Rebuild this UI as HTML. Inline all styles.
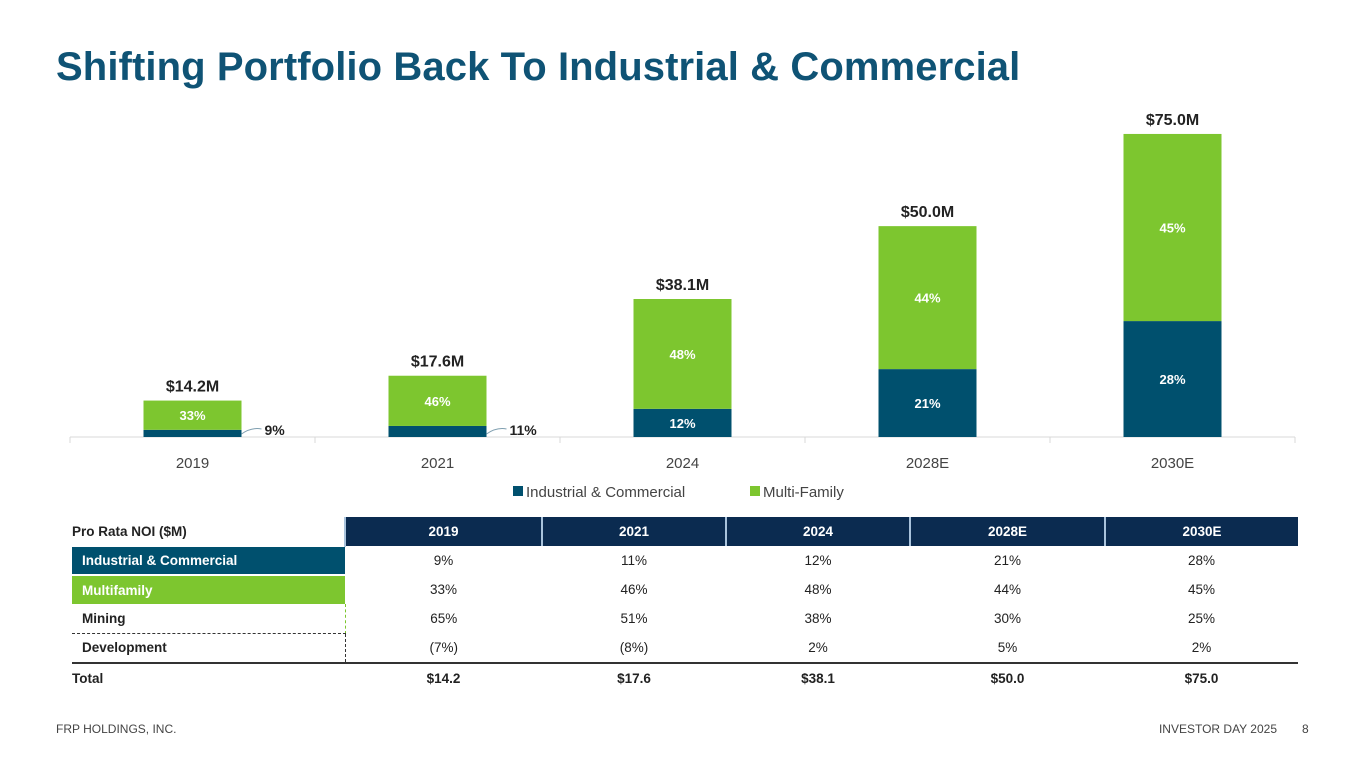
<!DOCTYPE html>
<html><head><meta charset="utf-8">
<style>
body{margin:0;width:1365px;height:768px;background:#fff;font-family:"Liberation Sans",sans-serif;position:relative;overflow:hidden}
.title{position:absolute;left:56px;top:45px;font-size:40px;font-weight:bold;color:#0f5375;letter-spacing:0.1px}
table{position:absolute;left:72px;top:517px;border-collapse:collapse;font-size:13.5px}
td{height:29px;padding:0;text-align:center;color:#222}
.lab{width:273px;text-align:left;padding-left:10px;font-weight:bold;box-sizing:border-box}
.hd td.y{background:#0b2b50;color:#fff;font-weight:bold;border-left:2px solid #a9c3dc}
.foot{position:absolute;top:722px;font-size:12px;color:#444}
</style></head><body>
<div class="title">Shifting Portfolio Back To Industrial &amp; Commercial</div>
<svg id="chart" width="1365" height="510" style="position:absolute;left:0;top:0"></svg>
<table>
<tr class="hd"><td class="lab" style="padding-left:0">Pro Rata NOI ($M)</td><td class="y" style="width:195px">2019</td><td class="y" style="width:182px">2021</td><td class="y" style="width:182px">2024</td><td class="y" style="width:193px">2028E</td><td class="y" style="width:192px">2030E</td></tr>
<tr><td class="lab" style="background:#00506e;color:#fff;border-top:2px solid #fff">Industrial &amp; Commercial</td><td>9%</td><td>11%</td><td>12%</td><td>21%</td><td>28%</td></tr>
<tr><td class="lab" style="background:#7dc62f;color:#fff;border-top:2px solid #fff">Multifamily</td><td>33%</td><td>46%</td><td>48%</td><td>44%</td><td>45%</td></tr>
<tr><td class="lab" style="border-right:1px dashed #7dc62f;border-bottom:1px dashed #333">Mining</td><td>65%</td><td>51%</td><td>38%</td><td>30%</td><td>25%</td></tr>
<tr style="border-bottom:2px solid #333"><td class="lab" style="border-right:1px dashed #333">Development</td><td>(7%)</td><td>(8%)</td><td>2%</td><td>5%</td><td>2%</td></tr>
<tr style="font-weight:bold"><td class="lab" style="padding-left:0">Total</td><td>$14.2</td><td>$17.6</td><td>$38.1</td><td>$50.0</td><td>$75.0</td></tr>
</table>
<div class="foot" style="left:56px">FRP HOLDINGS, INC.</div>
<div class="foot" style="right:88px">INVESTOR DAY 2025</div>
<div class="foot" style="left:1302px">8</div>
<script>
const categories=["2019","2021","2024","2028E","2030E"];
const icValues=[1.3,2.0,5.1,12.3,21.0];
const mfValues=[5.3,9.1,19.9,25.9,33.9];
const icPct=[9,11,12,21,28];
const mfPct=[33,46,48,44,45];
const totalLabels=["$14.2M","$17.6M","$38.1M","$50.0M","$75.0M"];
const svg=document.getElementById('chart');
const NS='http://www.w3.org/2000/svg';
const x0=70,x1=1295,base=437,pxPerM=5.52,bw=98;
const step=(x1-x0)/categories.length;
const xc=i=>x0+step*(i+0.5);
const yv=v=>base-v*pxPerM;
function mk(t,a){const e=document.createElementNS(NS,t);for(const k in a)e.setAttribute(k,a[k]);svg.appendChild(e);return e;}
let ax=mk('line',{x1:x0,x2:x1,y1:base,y2:base,stroke:'#d9d9d9'});


for(let i=0;i<=categories.length;i++){let t=mk('line',{x1:x0+step*i,x2:x0+step*i,y1:base,y2:base+6,stroke:'#d9d9d9'});

}
categories.forEach((c,i)=>{
 const ic=icValues[i], mf=mfValues[i];
 const cx=xc(i);
 let b1=mk('rect',{x:cx-bw/2,y:yv(ic),width:bw,height:base-yv(ic),fill:'#00506e'});
 
 
 let b2=mk('rect',{x:cx-bw/2,y:yv(ic+mf),width:bw,height:yv(ic)-yv(ic+mf),fill:'#7dc62f'});
 
 
 const hIc=base-yv(ic);
 let l1;
 if(hIc<15){
  mk('path',{d:`M${cx+bw/2} ${base-3} Q${cx+bw/2+10} ${base-10} ${cx+bw/2+20} ${base-8}`,stroke:'#7f9fb0',fill:'none'});
  l1=mk('text',{x:cx+bw/2+23,y:base-2,'font-size':14,'font-weight':'bold',fill:'#222'});
 }else{
  l1=mk('text',{x:cx,y:(yv(ic)+base)/2+5,'font-size':13,'font-weight':'bold',fill:'#fff','text-anchor':'middle'});
 }
 l1.textContent=icPct[i]+'%';
 
 
 let l2=mk('text',{x:cx,y:(yv(ic)+yv(ic+mf))/2+5,'font-size':13,'font-weight':'bold',fill:'#fff','text-anchor':'middle'});
 l2.textContent=mfPct[i]+'%';
 
 
 let tl=mk('text',{x:cx,y:yv(ic+mf)-9,'font-size':16,'font-weight':'bold',fill:'#222','text-anchor':'middle'});
 tl.textContent=totalLabels[i];
 
 
 let xl=mk('text',{x:cx,y:468,'font-size':15,fill:'#444','text-anchor':'middle'});
 xl.textContent=c;
 
 
});
const legend=[["Industrial & Commercial","#00506e",513],["Multi-Family","#7dc62f",750]];
legend.forEach(([n,col,x])=>{
 let r=mk('rect',{x:x,y:486,width:10,height:10,fill:col});
 
 
 let t=mk('text',{x:x+13,y:497,'font-size':15,fill:'#444'});
 t.textContent=n;
 
 
});
</script>
</body></html>
